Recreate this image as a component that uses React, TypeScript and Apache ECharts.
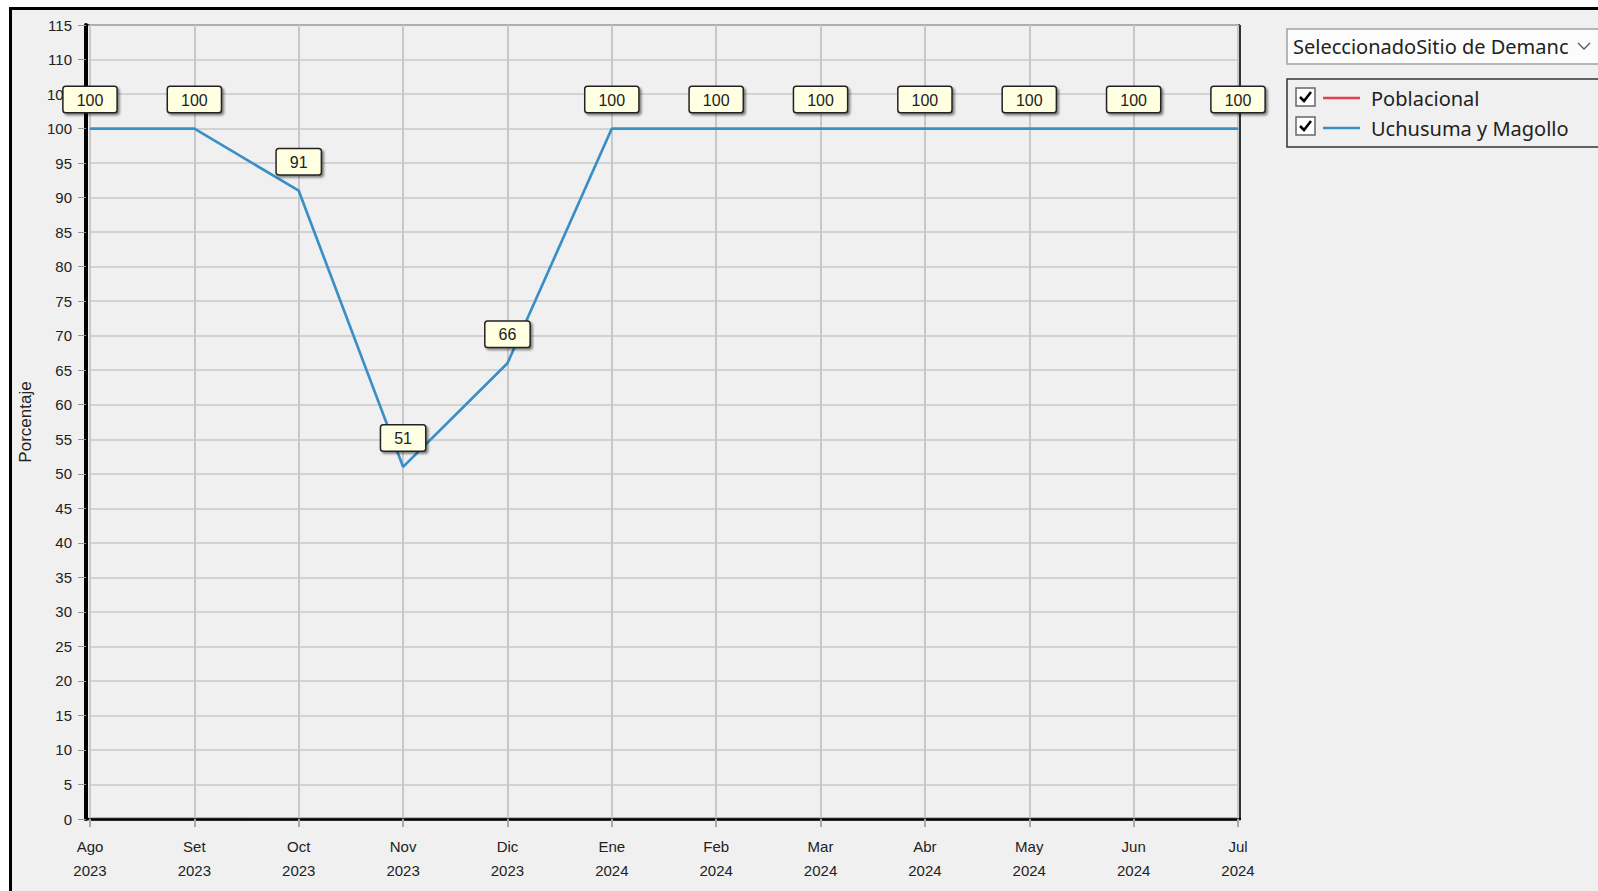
import React, { useEffect, useRef } from "react";
import * as echarts from "echarts";

const months = ["Ago", "Set", "Oct", "Nov", "Dic", "Ene", "Feb", "Mar", "Abr", "May", "Jun", "Jul"];
const years = ["2023", "2023", "2023", "2023", "2023", "2024", "2024", "2024", "2024", "2024", "2024", "2024"];
const poblacional: number[] = [];
const uchusumaMagollo = [100, 100, 91, 51, 66, 100, 100, 100, 100, 100, 100, 100];
const seriesNames = ["Poblacional", "Uchusuma y Magollo"];
const seriesColors = ["#e0404f", "#3a8fc6"];
const dropdownText = "SeleccionadoSitio de Demanc";
const yAxisName = "Porcentaje";

const FONT = "'Liberation Sans', Arial, sans-serif";
const UI_FONT = "'Noto Sans', 'Open Sans', sans-serif";

export default function App() {
  const ref = useRef<HTMLDivElement>(null);
  useEffect(() => {
    if (!ref.current) return;
    const chart = echarts.init(ref.current, null, { renderer: "svg" });
    const categories = months.map((m, i) => m + "\n" + years[i]);
    const labelCfg = {
      show: true,
      position: "top",
      distance: 16,
      fontFamily: FONT,
      fontSize: 16,
      color: "#222",
      backgroundColor: "#ffffe1",
      borderColor: "#222",
      borderWidth: 1.5,
      borderRadius: 2,
      padding: [5, 13, 4, 13],
      shadowColor: "rgba(0,0,0,0.45)",
      shadowOffsetX: 2,
      shadowOffsetY: 2,
      shadowBlur: 2,
    };
    const checkbox = (y: number) => [
      {
        type: "rect",
        shape: { x: 1296, y: y - 9, width: 19, height: 18 },
        style: { fill: "#ffffff", stroke: "#666", lineWidth: 1.5 },
        z: 100,
      },
      {
        type: "polyline",
        shape: { points: [[1300, y], [1304, y + 4], [1311, y - 5]] },
        style: { stroke: "#000", lineWidth: 2.5, fill: null },
        z: 101,
      },
    ];
    chart.setOption({
      animation: false,
      grid: { left: 90, right: 360, top: 25, bottom: 72, containLabel: false },
      xAxis: {
        type: "category",
        data: categories,
        boundaryGap: false,
        axisLine: { show: true, lineStyle: { color: "#000", width: 2.5 } },
        axisTick: { show: true, alignWithLabel: true, length: 8, lineStyle: { color: "#aaa", width: 2 } },
        axisLabel: { fontFamily: FONT, fontSize: 15, color: "#222", lineHeight: 24, margin: 15, interval: 0 },
        splitLine: { show: true, lineStyle: { color: "#c8c8c8", width: 2 } },
      },
      yAxis: {
        type: "value",
        min: 0,
        max: 115,
        interval: 5,
        offset: 4,
        name: yAxisName,
        nameLocation: "middle",
        nameGap: 52,
        nameTextStyle: { fontFamily: FONT, fontSize: 17, color: "#222" },
        axisLine: { show: true, lineStyle: { color: "#000", width: 4 } },
        axisTick: { show: true, length: 8, lineStyle: { color: "#999", width: 1 } },
        axisLabel: { fontFamily: FONT, fontSize: 15, color: "#222", margin: 14 },
        splitLine: { show: true, lineStyle: { color: "#c8c8c8", width: 1.5 } },
      },
      legend: {
        orient: "vertical",
        left: 1318,
        top: 83,
        itemWidth: 37,
        itemHeight: 2.5,
        itemGap: 10,
        icon: "rect",
        selectedMode: false,
        textStyle: { fontFamily: UI_FONT, fontSize: 20, color: "#222", lineHeight: 20, padding: [0, 0, 0, 6] },
        data: seriesNames,
      },
      graphic: [
        {
          type: "line",
          shape: { x1: 86, y1: 25, x2: 1240, y2: 25 },
          style: { stroke: "#333", lineWidth: 1.5 },
        },
        {
          type: "line",
          shape: { x1: 1240, y1: 25, x2: 1240, y2: 820 },
          style: { stroke: "#333", lineWidth: 2 },
        },
        {
          type: "line",
          shape: { x1: 84, y1: 819, x2: 1241, y2: 819 },
          style: { stroke: "#000", lineWidth: 2.5 },
        },
        {
          type: "rect",
          shape: { x: 1287, y: 29, width: 320, height: 35 },
          style: { fill: "#fcfcfc", stroke: "#a0a0a0", lineWidth: 1.5 },
        },
        {
          type: "text",
          x: 1293,
          y: 46,
          style: { text: dropdownText, fontFamily: UI_FONT, fontSize: 20, fill: "#222", verticalAlign: "middle" },
        },
        {
          type: "polyline",
          shape: { points: [[1578, 43], [1584, 49], [1590, 43]] },
          style: { stroke: "#555", lineWidth: 1.3, fill: null },
        },
        {
          type: "rect",
          shape: { x: 1287, y: 79, width: 320, height: 68 },
          style: { fill: "none", stroke: "#333", lineWidth: 1.5 },
        },
        ...checkbox(97),
        ...checkbox(126),
      ],
      series: [
        {
          name: seriesNames[0],
          type: "line",
          data: poblacional,
          color: seriesColors[0],
          lineStyle: { width: 2.5, color: seriesColors[0] },
          symbol: "none",
        },
        {
          name: seriesNames[1],
          type: "line",
          data: uchusumaMagollo,
          color: seriesColors[1],
          symbol: "circle",
          symbolSize: 1,
          showSymbol: true,
          lineStyle: { width: 2.7, color: seriesColors[1] },
          label: labelCfg,
          z: 5,
        },
      ],
    });
    return () => chart.dispose();
  }, []);
  return (
    <div style={{ position: "fixed", left: 0, top: 0, width: 1598, height: 891, background: "#ffffff", overflow: "hidden" }}>
      <div
        style={{
          position: "absolute",
          left: 9,
          top: 7,
          width: 1620,
          height: 900,
          borderLeft: "3px solid #000",
          borderTop: "3px solid #000",
          background: "#f0f0f0",
        }}
      />
      <div ref={ref} style={{ position: "absolute", left: 0, top: 0, width: 1598, height: 891 }} />
    </div>
  );
}
